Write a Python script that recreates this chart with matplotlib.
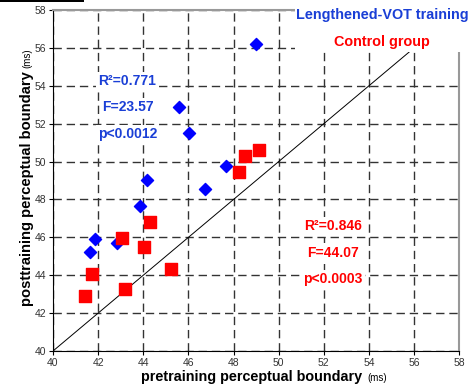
import matplotlib.pyplot as plt
from matplotlib.patches import Rectangle

plt.rcParams['font.family'] = ['Liberation Sans', 'DejaVu Sans']

# Lengthened-VOT training group (pre, post)
vot_pre = [41.64, 41.86, 42.82, 43.84, 44.15, 45.60, 46.04, 46.74, 47.67, 49.00]
vot_post = [45.23, 45.93, 45.70, 47.67, 49.01, 52.87, 51.53, 48.55, 49.77, 56.22]

# Control group (pre, post)
ctl_pre = [41.42, 41.74, 43.21, 43.04, 44.02, 44.31, 45.23, 48.24, 48.51, 49.14]
ctl_post = [42.92, 44.08, 43.27, 45.98, 45.49, 46.81, 44.35, 49.45, 50.31, 50.60]

vot_stats = ["R\u00b2=0.771", "F=23.57", "p<0.0012"]
ctl_stats = ["R\u00b2=0.846", "F=44.07", "p<0.0003"]
ticks = list(range(40, 59, 2))

fig = plt.figure(figsize=(4.69, 3.87), dpi=100)
ax = fig.add_axes([0.113, 0.093, 0.866, 0.881])

ax.set_xlim(40, 58)
ax.set_ylim(40, 58)
ax.set_xticks(ticks)
ax.set_yticks(ticks)
ax.tick_params(labelsize=7.5, length=3, width=0.8, pad=2, colors='black', labelcolor='#333333')
ax.grid(True, color='#333333', linestyle=(0, (6, 3.5)), linewidth=1.0)

for s in ['top', 'right']:
    ax.spines[s].set_color('#999999')
    ax.spines[s].set_linewidth(1.5)

# diagonal reference line
ax.plot([40, 55.9], [40, 55.9], color='black', linewidth=0.7, zorder=2)

ax.scatter(vot_pre, vot_post, marker='D', s=38, color='#0000ff', zorder=4)
ax.scatter(ctl_pre, ctl_post, marker='s', s=70, color='#ff0000', zorder=4)

# white legend area in upper right
ax.add_patch(Rectangle((0.595, 0.877), 0.5, 0.2, transform=ax.transAxes,
                       facecolor='white', edgecolor='none', zorder=3, clip_on=False))
ax.text(0.81, 0.985, "Lengthened-VOT training", transform=ax.transAxes, color='#1a3fd6',
        fontsize=10.4, fontweight='bold', ha='center', va='center', zorder=5)
ax.text(0.81, 0.906, "Control group", transform=ax.transAxes, color='#ff0000',
        fontsize=10.4, fontweight='bold', ha='center', va='center', zorder=5)

box = dict(facecolor='white', edgecolor='none', pad=1.5)
for t, y in zip(vot_stats, [54.26, 52.88, 51.46]):
    ax.text(43.3, y, t, color='#1a3fd6', fontsize=10, fontweight='bold',
            ha='center', va='center', zorder=5, bbox=box)
for t, y in zip(ctl_stats, [46.6, 45.2, 43.8]):
    ax.text(52.4, y, t, color='#ff0000', fontsize=10, fontweight='bold',
            ha='center', va='center', zorder=5, bbox=box)

# axis labels with small "(ms)" unit
ax.text(0.489, -0.088, "pretraining perceptual boundary", transform=ax.transAxes,
        fontsize=10.4, fontweight='bold', ha='center', va='baseline')
ax.text(0.773, -0.088, "(ms)", transform=ax.transAxes, fontsize=7,
        ha='left', va='baseline')
ax.text(-0.055, 0.475, "posttraining perceptual boundary", transform=ax.transAxes,
        fontsize=10.6, fontweight='bold', rotation=90, rotation_mode='anchor',
        ha='center', va='baseline')
ax.text(-0.055, 0.83, "(ms)", transform=ax.transAxes, fontsize=7, rotation=90,
        rotation_mode='anchor', ha='left', va='baseline')

# black bar at top-left corner
fig.patches.append(Rectangle((0, 0.994), 0.18, 0.006, transform=fig.transFigure,
                             facecolor='black', edgecolor='none'))

fig.savefig("out.png", dpi=100)
